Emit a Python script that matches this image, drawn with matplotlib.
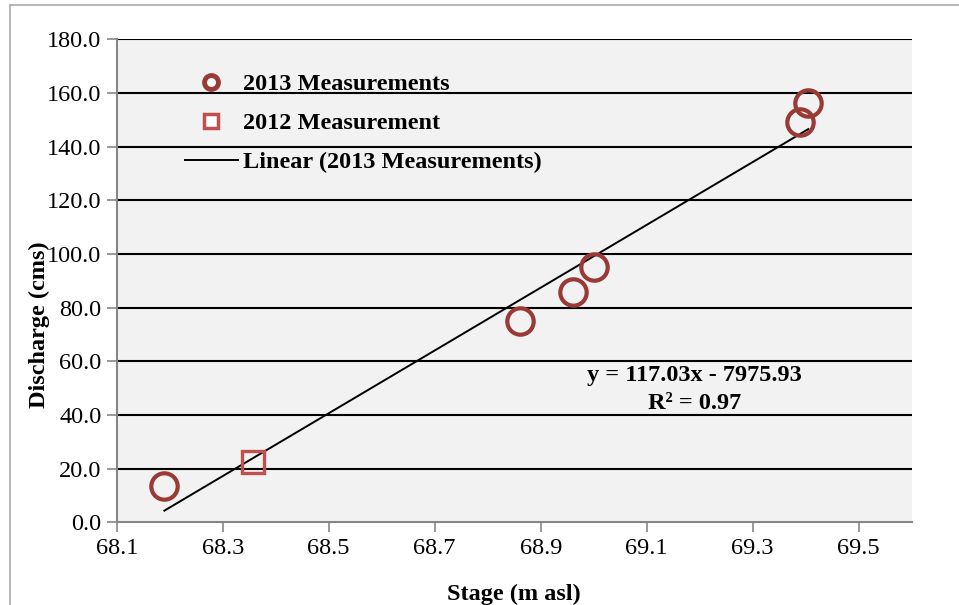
import numpy as np
import matplotlib as mpl; mpl.use('Agg')
import matplotlib.pyplot as plt
from matplotlib.lines import Line2D

mpl.rcParams.update({'font.family':'serif','font.serif':['Liberation Serif','Times New Roman','DejaVu Serif']})

# data
stage_2013=[68.19,68.86,68.96,69.00,69.39,69.405]
q_2013=[13.6,75.1,85.9,95.0,149.3,156.4]
stage_2012=[68.358]
q_2012=[22.4]
slope,icept=117.03,-7975.93
r2=0.97
xticks=[68.1,68.3,68.5,68.7,68.9,69.1,69.3,69.5]
yticks=[0,20,40,60,80,100,120,140,160,180]

C13='#993a37'; C12='#c0504d'; GR='#868686'; FS=17.5

fig=plt.figure(figsize=(9.59,6.05),dpi=100)
ax=fig.add_axes([116.7/959,1-522.3/605,(911.7-116.7)/959,(522.3-39.3)/605])
ax.set_facecolor('#f2f2f2')
ax.set_xlim(68.1,69.6); ax.set_ylim(0,180)
ax.set_xticks(xticks); ax.set_yticks(yticks)
ax.set_xticklabels([f'{v:.1f}' for v in xticks],fontsize=FS)
ax.set_yticklabels([f'{v:.1f}' for v in yticks],fontsize=FS)
ax.tick_params(direction='out',length=7,width=1.2,color=GR,pad=4)
for s in ['top','right']: ax.spines[s].set_visible(False)
for s in ['left','bottom']: ax.spines[s].set_color(GR); ax.spines[s].set_linewidth(1.5)
for v in yticks[1:]:
    ax.axhline(v,color='black',lw=1.5,zorder=1)

xs=np.array([min(stage_2013),max(stage_2013)])
ax.plot(xs,slope*xs+icept,color='black',lw=1.4,zorder=3)
ax.plot(stage_2013,q_2013,'o',ms=19,mfc='none',mec=C13,mew=3.0,zorder=4)
ax.plot(stage_2012,q_2012,'s',ms=16,mfc='none',mec=C12,mew=2.4,zorder=4)

ax.text(69.19,49.5,f'y = {slope:.2f}x - {abs(icept):.2f}\nR² = {r2:.2f}',ha='center',va='center',
        fontsize=FS,fontweight='bold',linespacing=1.4)

h=[Line2D([],[],ls='none',marker='o',ms=10,mfc='white',mec=C13,mew=3.5),
   Line2D([],[],ls='none',marker='s',ms=10,mfc='white',mec=C12,mew=2.5),
   Line2D([],[],color='black',lw=1.4)]
lab=['2013 Measurements','2012 Measurement','Linear (2013 Measurements)']
ax.legend(h,lab,loc='upper left',bbox_to_anchor=(0.058,0.975),frameon=False,
          prop={'weight':'bold','size':FS},handlelength=2.2,handletextpad=0.2,labelspacing=0.7)

ax.set_xlabel('Stage (m asl)',fontsize=FS,fontweight='bold',labelpad=18)
ax.set_ylabel('Discharge (cms)',fontsize=FS,fontweight='bold')
ax.yaxis.set_label_coords(-0.084,0.41)

fig.add_artist(Line2D([10/959,10/959],[0,1-5/605],color='#aaaaaa',lw=1.2))
fig.add_artist(Line2D([10/959,1],[1-5/605,1-5/605],color='#aaaaaa',lw=1.2))
fig.savefig('out.png',dpi=100)
